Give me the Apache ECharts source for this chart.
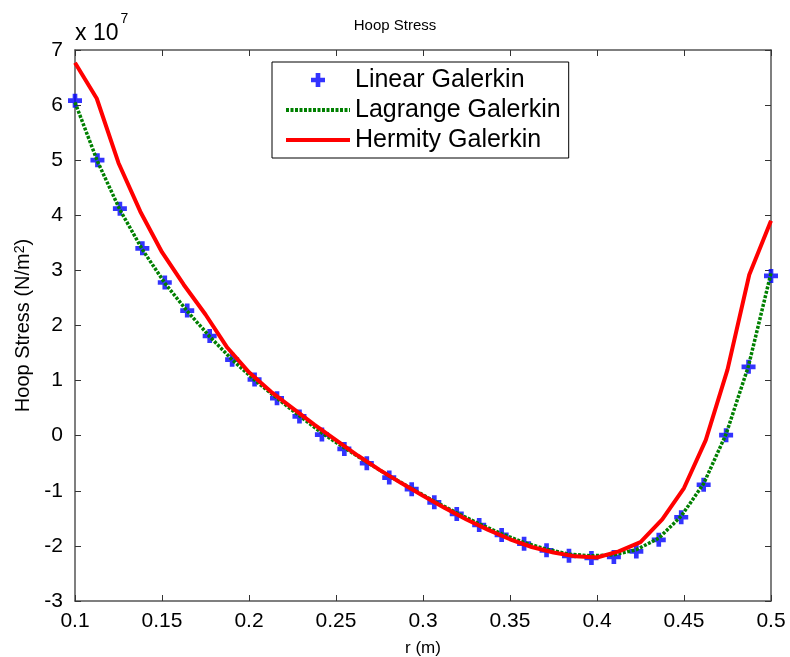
<!DOCTYPE html>
<html>
<head>
<meta charset="utf-8">
<script src="https://cdn.jsdelivr.net/npm/echarts@6/dist/echarts.min.js"></script>
<style>
  html, body { margin: 0; padding: 0; background: #fff; }
  #chart { width: 790px; height: 657px; }
</style>
</head>
<body>
<div id="chart"></div>
<script>
// values are in units of 1e7 N/m^2
const rLinear = [0.1, 0.1129, 0.1258, 0.1387, 0.1516, 0.1645, 0.1774, 0.1903, 0.2032, 0.2161,
    0.229, 0.2419, 0.2548, 0.2677, 0.2806, 0.2935, 0.3065, 0.3194, 0.3323, 0.3452,
    0.3581, 0.371, 0.3839, 0.3968, 0.4097, 0.4226, 0.4355, 0.4484, 0.4613, 0.4742, 0.4871, 0.5];
const linearStress = [6.08, 5.0, 4.12, 3.4, 2.78, 2.27, 1.81, 1.38, 1.02, 0.68,
    0.35, 0.02, -0.24, -0.5, -0.76, -0.97, -1.21, -1.42, -1.62, -1.8,
    -1.96, -2.08, -2.18, -2.22, -2.2, -2.1, -1.89, -1.48, -0.89, 0.01, 1.25, 2.9];
const lagrangeStress = [6.05, 4.98, 4.1, 3.38, 2.77, 2.26, 1.8, 1.38, 1.01, 0.68,
    0.36, 0.05, -0.22, -0.48, -0.73, -0.96, -1.19, -1.4, -1.6, -1.78,
    -1.94, -2.06, -2.15, -2.18, -2.16, -2.07, -1.86, -1.46, -0.87, 0.03, 1.27, 2.95];
const rHermite = [0.1, 0.1125, 0.125, 0.1375, 0.15, 0.1625, 0.175, 0.1875, 0.2, 0.2125,
    0.225, 0.2375, 0.25, 0.2625, 0.275, 0.2875, 0.3, 0.3125, 0.325, 0.3375,
    0.35, 0.3625, 0.375, 0.3875, 0.4, 0.4125, 0.425, 0.4375, 0.45, 0.4625,
    0.475, 0.4875, 0.5];
const hermiteStress = [6.77, 6.12, 4.95, 4.07, 3.33, 2.74, 2.2, 1.6, 1.15, 0.8,
    0.5, 0.2, -0.08, -0.36, -0.62, -0.86, -1.09, -1.31, -1.52, -1.71,
    -1.88, -2.02, -2.12, -2.19, -2.21, -2.1, -1.93, -1.52, -0.95, -0.08,
    1.2, 2.92, 3.9];

const pair = (xs, ys) => xs.map((x, i) => [x, ys[i]]);
const FONT = 'Liberation Sans, Arial, sans-serif';
const plusPath = 'path://M-1,-3 L1,-3 L1,-1 L3,-1 L3,1 L1,1 L1,3 L-1,3 L-1,1 L-3,1 L-3,-1 L-1,-1 Z';

const chart = echarts.init(document.getElementById('chart'));

const boxAxis = {
    axisLine: {show: true, onZero: false, lineStyle: {color: '#555', width: 1.5}},
    axisTick: {show: true, inside: true, length: 6, lineStyle: {color: '#333'}},
    splitLine: {show: false}
};

chart.setOption({
    animation: false,
    backgroundColor: '#fff',
    title: {
        text: 'Hoop Stress',
        left: 'center',
        top: 13,
        textStyle: {fontFamily: FONT, fontSize: 15, fontWeight: 'normal', color: '#000'}
    },
    graphic: [{
        type: 'text',
        left: 75,
        top: 12,
        style: {
            text: '{a|x 10}{b|7}',
            rich: {
                a: {fontFamily: FONT, fontSize: 23, color: '#000', verticalAlign: 'bottom', padding: [10, 0, 0, 0]},
                b: {fontFamily: FONT, fontSize: 14, color: '#000', verticalAlign: 'top', padding: [0, 0, 0, 2]}
            }
        }
    }],
    legend: {
        orient: 'vertical',
        left: 272,
        top: 62,
        padding: [5, 8, 5, 12],
        itemGap: 4,
        itemWidth: 64,
        itemHeight: 14,
        borderColor: '#000',
        borderWidth: 1,
        backgroundColor: '#fff',
        textStyle: {fontFamily: FONT, fontSize: 25, color: '#000', padding: [0, 0, 0, 0], lineHeight: 26},
        data: [
            {name: 'Linear Galerkin', icon: plusPath, itemStyle: {color: '#0000ff'}},
            {name: 'Lagrange Galerkin', itemStyle: {opacity: 0},
                lineStyle: {color: '#008000', width: 4, type: [3, 1.5]}},
            {name: 'Hermity Galerkin', itemStyle: {opacity: 0},
                lineStyle: {color: '#ff0000', width: 4}}
        ]
    },
    grid: {left: 75, right: 19, top: 50, bottom: 56, outerBoundsMode: 'none', containLabel: false},
    xAxis: [{
        type: 'value',
        min: 0.1,
        max: 0.5,
        interval: 0.05,
        name: 'r (m)',
        nameLocation: 'middle',
        nameGap: 39,
        nameTextStyle: {fontFamily: FONT, fontSize: 17, color: '#000'},
        axisLabel: {fontFamily: FONT, fontSize: 21, color: '#000', margin: 10,
            formatter: v => String(+v.toFixed(2))},
        ...boxAxis
    }, {
        type: 'value',
        position: 'top',
        min: 0.1,
        max: 0.5,
        interval: 0.05,
        axisLabel: {show: false},
        ...boxAxis
    }],
    yAxis: [{
        type: 'value',
        min: -3,
        max: 7,
        interval: 1,
        name: 'Hoop Stress (N/m{sup|2})',
        nameLocation: 'middle',
        nameGap: 42,
        nameTextStyle: {fontFamily: FONT, fontSize: 20, color: '#000',
            rich: {sup: {fontFamily: FONT, fontSize: 14, color: '#000', verticalAlign: 'top'}}},
        axisLabel: {fontFamily: FONT, fontSize: 21, color: '#000', margin: 12},
        ...boxAxis
    }, {
        type: 'value',
        position: 'right',
        min: -3,
        max: 7,
        interval: 1,
        axisLabel: {show: false},
        ...boxAxis
    }],
    series: [
        {
            name: 'Lagrange Galerkin',
            type: 'line',
            data: pair(rLinear, lagrangeStress),
            symbol: 'none',
            z: 3,
            itemStyle: {color: '#008000'},
            lineStyle: {color: '#008000', width: 3.5, type: [3, 1.5]}
        },
        {
            name: 'Hermity Galerkin',
            type: 'line',
            data: pair(rHermite, hermiteStress),
            symbol: 'none',
            z: 4,
            itemStyle: {color: '#ff0000'},
            lineStyle: {color: '#ff0000', width: 4}
        },
        {
            name: 'Linear Galerkin',
            type: 'scatter',
            data: pair(rLinear, linearStress),
            symbol: plusPath,
            symbolSize: 14,
            z: 2,
            itemStyle: {color: '#0000ff'}
        }
    ]
});
</script>
</body>
</html>
